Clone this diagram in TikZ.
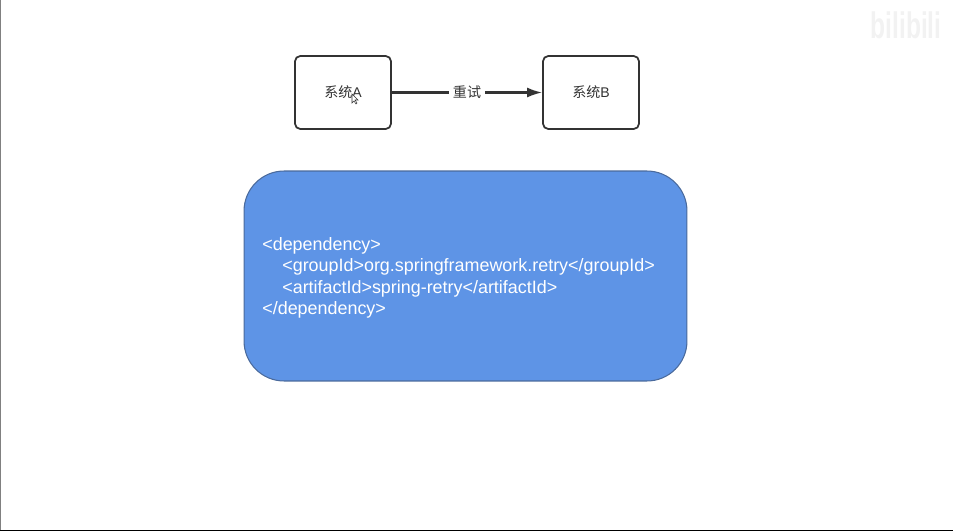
\documentclass[tikz,border=0pt]{standalone}
\usepackage{fontspec}
\setmainfont{Liberation Sans}
\newfontfamily\cjk{Noto Sans CJK SC}
\usepackage{xcolor}
\usepackage{tikz}
\usetikzlibrary{calc, positioning, arrows.meta}

\definecolor{boxblue}{HTML}{5E94E6}
\definecolor{boxedge}{HTML}{4A6A9C}
\definecolor{inkgray}{HTML}{333333}

\tikzset{
  sysbox/.style={draw=inkgray, line width=1pt, fill=white, rounded corners=3pt,
    minimum width=1.92cm, minimum height=1.46cm, inner sep=0pt,
    font=\fontsize{8}{10}\selectfont, text=inkgray},
  depbox/.style={draw=boxedge, line width=0.6pt, fill=boxblue, rounded corners=0.8cm,
    minimum width=8.86cm, minimum height=4.2cm},
  deptext/.style={inner sep=0pt, align=left, text=white,
    font=\fontsize{10.2}{12.2}\selectfont}
}

\begin{document}
\begin{tikzpicture}[x=0.02cm, y=-0.02cm]
  \useasboundingbox (0,0) rectangle (953,531);

  % Screen edges
  \fill[gray] (0,0) rectangle (1,531);
  \fill[black] (0,529.5) rectangle (953,531);

  % Watermark
  \node[text=black!5, font=\bfseries\fontsize{14}{14}\selectfont] (mark) at (906,25) {\scalebox{1}[1.5]{bilibili}};

  % Systems and retry arrow
  \node[sysbox] (sysA) at (343,92.5) {{\cjk 系统}A};
  \node[sysbox] (sysB) at (591,92.5) {{\cjk 系统}B};
  \draw[-{Latex[length=0.3cm,width=0.2cm]}, line width=1.2pt, draw=inkgray] (sysA) -- (sysB)
    node[midway, fill=white, inner xsep=2pt, inner ysep=1pt, text=inkgray, font=\fontsize{8}{10}\cjk] (retry) {重试};

  % Mouse pointer
  \filldraw[draw=inkgray, fill=white, line width=0.3pt]
    (352,94) -- (352,103) -- (354,101) -- (356,104) -- (357,103) -- (355,100) -- (358,100) -- cycle;

  % Dependency snippet
  \node[depbox] (dep) at (465.5,276) {};
  \node[deptext, anchor=west] (code) at (262,278) {%
    <dependency>\\
    \hspace*{0.4cm}<groupId>org.springframework.retry</groupId>\\
    \hspace*{0.4cm}<artifactId>spring-retry</artifactId>\\
    </dependency>};
\end{tikzpicture}
\end{document}
